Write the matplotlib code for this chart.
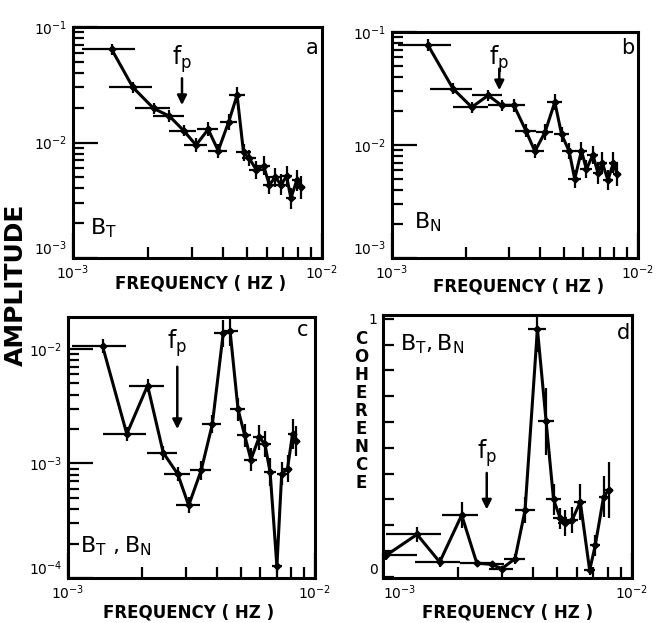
import matplotlib.pyplot as plt
import numpy as np
from matplotlib.ticker import FixedLocator, NullFormatter

# frequencies in mHz
freq_a = [1.43, 1.74, 2.11, 2.44, 2.78, 3.12, 3.49, 3.83, 4.22, 4.56, 4.84,
          5.10, 5.45, 5.83, 6.14, 6.50, 6.84, 7.21, 7.50, 7.92, 8.21]
amp_t = [0.064, 0.030, 0.0197, 0.0169, 0.0127, 0.0095, 0.0130, 0.0085, 0.0151,
         0.0257, 0.0082, 0.0073, 0.0058, 0.0063, 0.0043, 0.0050, 0.0043,
         0.0051, 0.0033, 0.0047, 0.0041]
err_t = [0.05, 0.05, 0.05, 0.05, 0.05, 0.06, 0.06, 0.06, 0.07, 0.07, 0.07,
         0.07, 0.08, 0.08, 0.08, 0.08, 0.09, 0.09, 0.09, 0.09, 0.10]

freq_b = [1.40, 1.77, 2.11, 2.46, 2.79, 3.13, 3.50, 3.81, 4.19, 4.59, 4.89,
          5.25, 5.53, 5.89, 6.17, 6.56, 6.88, 7.15, 7.55, 7.95, 8.22]
amp_n = [0.0766, 0.0315, 0.0216, 0.0275, 0.0224, 0.0224, 0.0134, 0.0088,
         0.0130, 0.0240, 0.0124, 0.0088, 0.0050, 0.0089, 0.0061, 0.0082,
         0.0056, 0.0070, 0.0049, 0.0070, 0.0055]
err_n = [0.05, 0.05, 0.05, 0.05, 0.05, 0.06, 0.06, 0.06, 0.07, 0.07, 0.07,
         0.07, 0.08, 0.08, 0.08, 0.08, 0.09, 0.09, 0.09, 0.09, 0.10]

freq_c = [1.38, 1.73, 2.10, 2.43, 2.78, 3.08, 3.46, 3.84, 4.25, 4.53, 4.88,
          5.19, 5.50, 5.94, 6.27, 6.58, 7.01, 7.33, 7.74, 8.11, 8.37]
amp_tn = [0.0106, 1.81e-3, 4.79e-3, 1.24e-3, 8.1e-4, 4.3e-4, 8.7e-4, 2.2e-3,
          0.0137, 0.0144, 2.97e-3, 1.77e-3, 1.08e-3, 1.69e-3, 1.48e-3, 8.4e-4,
          1.27e-4, 8.1e-4, 9.0e-4, 1.81e-3, 1.58e-3]
err_tn = [0.06, 0.06, 0.06, 0.06, 0.06, 0.07, 0.08, 0.08, 0.12, 0.13, 0.10,
          0.10, 0.10, 0.11, 0.11, 0.12, 0.06, 0.10, 0.12, 0.13, 0.13]

freq_d = [1.03, 1.37, 1.69, 2.07, 2.38, 2.73, 3.00, 3.39, 3.72, 4.17, 4.52,
          4.84, 5.15, 5.39, 5.74, 6.20, 6.76, 7.12, 7.69, 8.06]
coh = [0.083, 0.164, 0.057, 0.239, 0.053, 0.048, 0.031, 0.070, 0.258, 0.961,
       0.602, 0.30, 0.226, 0.209, 0.219, 0.29, 0.025, 0.122, 0.31, 0.336]
err_coh = [0.02, 0.03, 0.02, 0.05, 0.01, 0.01, 0.01, 0.02, 0.05, 0.09, 0.13,
           0.06, 0.04, 0.05, 0.05, 0.07, 0.02, 0.04, 0.08, 0.11]

half_band = 0.34  # mHz, half width of the frequency bars
fp_marks = [2.74, 2.73, 2.77, 2.61]  # mHz, where the f_p arrow sits

W, H = 659, 623
fig = plt.figure(figsize=(W / 100, H / 100), dpi=100)


def rect(l, t, r, b):
    return [l / W, 1 - b / H, (r - l) / W, (b - t) / H]


def style_axes(ax):
    for s in ax.spines.values():
        s.set_linewidth(2.2)
    ax.tick_params(which='both', direction='in', top=False, right=False,
                   width=1.6, labelsize=10, pad=4)
    ax.tick_params(which='major', length=18)
    ax.tick_params(which='minor', length=8)
    ax.set_xscale('log')
    ax.set_xlim(1e-3, 1e-2)
    ax.set_xticks([1e-3, 1e-2], labels=[r'$10^{-3}$', r'$10^{-2}$'])
    ax.xaxis.set_minor_locator(FixedLocator(np.arange(2, 10) * 1e-3))
    ax.xaxis.set_minor_formatter(NullFormatter())


def draw_series(ax, f, y, yerr_lo, yerr_hi):
    x = np.array(f) * 1e-3
    ax.errorbar(x, y, yerr=[yerr_lo, yerr_hi], xerr=half_band * 1e-3,
                fmt='-', color='k', lw=2.2, elinewidth=1.6, capsize=0,
                marker='D', ms=3.5)


def log_panel(r, f, amp, err, ylim, decades):
    ax = fig.add_axes(rect(*r))
    style_axes(ax)
    ax.set_yscale('log')
    ax.set_ylim(*ylim)
    amp = np.array(amp)
    e = np.array(err)
    draw_series(ax, f, amp, amp * (1 - 10 ** -e), amp * (10 ** e - 1))
    ax.set_yticks([10.0 ** d for d in decades],
                  labels=[r'$10^{%d}$' % d for d in decades])
    minors = [m * 10.0 ** d for d in range(decades[0], decades[-1] + 1)
              for m in range(2, 10) if m * 10.0 ** d < ylim[1]]
    ax.yaxis.set_minor_locator(FixedLocator(minors))
    ax.yaxis.set_minor_formatter(NullFormatter())
    ax.get_yticklabels()[0].set_va('bottom')
    return ax


def fp_arrow(ax, fp, tail, head, txt):
    tr = ax.get_xaxis_transform()
    ax.annotate('', xy=(fp * 1e-3, head), xytext=(fp * 1e-3, tail),
                xycoords=tr, textcoords=tr,
                arrowprops=dict(arrowstyle='-|>', lw=1.8, color='k',
                                mutation_scale=14))
    ax.text(fp * 1e-3, txt, r'$\mathrm{f}_{\mathrm{p}}$', transform=tr,
            ha='center', va='center', fontsize=17)


def corner(ax, letter, x, y):
    ax.text(x, y, letter, transform=ax.transAxes, ha='center', va='center',
            fontsize=15)


# panel a
ax_a = log_panel((73, 27, 322, 258), freq_a, amp_t, err_t, (1e-3, 1e-1), [-3, -2, -1])
fp_arrow(ax_a, fp_marks[0], 0.79, 0.65, 0.86)
corner(ax_a, 'a', 0.96, 0.91)
ax_a.text(0.07, 0.13, r'$\mathrm{B}_{\mathrm{T}}$', transform=ax_a.transAxes,
          fontsize=16, va='center')

# panel b
ax_b = log_panel((392, 32, 638, 258), freq_b, amp_n, err_n, (1e-3, 1e-1), [-3, -2, -1])
fp_arrow(ax_b, fp_marks[1], 0.85, 0.73, 0.88)
corner(ax_b, 'b', 0.96, 0.93)
ax_b.text(0.09, 0.16, r'$\mathrm{B}_{\mathrm{N}}$', transform=ax_b.transAxes,
          fontsize=16, va='center')

# panel c
ax_c = log_panel((68, 317, 315, 578), freq_c, amp_tn, err_tn, (1e-4, 1.9e-2), [-4, -3, -2])
fp_arrow(ax_c, fp_marks[2], 0.82, 0.56, 0.90)
corner(ax_c, 'c', 0.95, 0.95)
ax_c.text(0.05, 0.12, r'$\mathrm{B}_{\mathrm{T}}\ ,\mathrm{B}_{\mathrm{N}}$',
          transform=ax_c.transAxes, fontsize=16, va='center')

# panel d
ax_d = fig.add_axes(rect(383, 315, 632, 578))
style_axes(ax_d)
ax_d.set_ylim(-0.005, 1.015)
c = np.array(coh)
draw_series(ax_d, freq_d, c, np.array(err_coh), np.array(err_coh))
ax_d.set_yticks([0, 1], labels=['0', '1'])
ax_d.yaxis.set_minor_locator(FixedLocator(np.arange(1, 10) / 10))
ax_d.tick_params(axis='y', which='major', length=8)
ax_d.get_yticklabels()[0].set_va('bottom')
ax_d.get_xticklabels()[0].set_ha('left')
fp_arrow(ax_d, fp_marks[3], 0.41, 0.25, 0.475)
corner(ax_d, 'd', 0.965, 0.93)
ax_d.text(0.07, 0.89, r'$\mathrm{B}_{\mathrm{T}},\mathrm{B}_{\mathrm{N}}$',
          transform=ax_d.transAxes, fontsize=16, va='center')

# shared labels
for cx, cy in [(201, 283), (519, 287), (189, 612), (508, 612)]:
    fig.text(cx / W, 1 - cy / H, 'FREQUENCY ( HZ )', ha='center', va='center',
             fontsize=12, fontweight='bold')
fig.text(16 / W, 1 - 285 / H, 'AMPLITUDE', rotation=90, ha='center',
         va='center', fontsize=18, fontweight='bold')
fig.text(361 / W, 1 - 411 / H, '\n'.join('COHERENCE'), ha='center',
         va='center', fontsize=12, fontweight='bold', linespacing=1.0)

fig.savefig('out.png', dpi=100)
